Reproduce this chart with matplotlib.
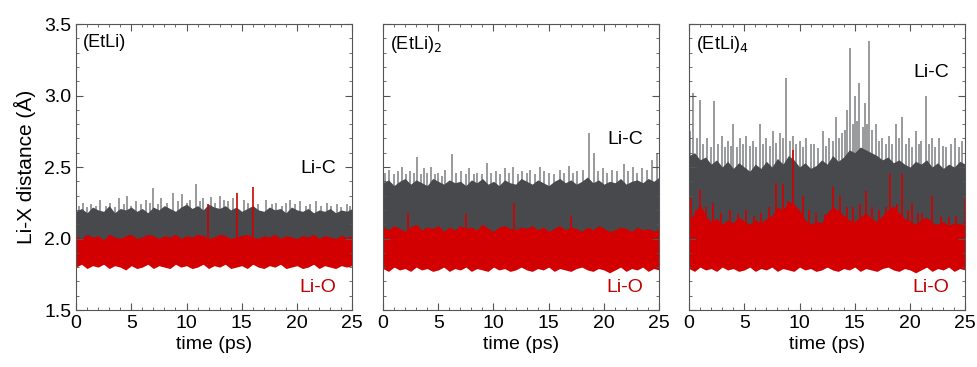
import numpy as np
import matplotlib
matplotlib.use("Agg")
import matplotlib.pyplot as plt
from matplotlib.ticker import MultipleLocator, FormatStrFormatter

plt.rcParams['font.family'] = ['Liberation Sans', 'DejaVu Sans']

# time grid of the band envelopes (ps)
t_env = np.arange(0, 25.01, 0.5)

# ---- (EtLi) ----
c1_hi = [2.19, 2.21, 2.18, 2.22, 2.20, 2.19, 2.23, 2.18, 2.21, 2.20, 2.22, 2.19, 2.21, 2.18, 2.22, 2.20, 2.23,
         2.21, 2.19, 2.22, 2.24, 2.21, 2.23, 2.20, 2.24, 2.22, 2.21, 2.23, 2.20, 2.22, 2.19, 2.21, 2.23, 2.20,
         2.19, 2.22, 2.20, 2.21, 2.18, 2.22, 2.20, 2.19, 2.21, 2.18, 2.20, 2.19, 2.21, 2.18, 2.20, 2.19, 2.21]
c1_lo = [1.97, 1.96, 1.98, 1.96, 1.97, 1.95, 1.97, 1.96, 1.98, 1.96, 1.97, 1.96, 1.95, 1.97, 1.96, 1.98, 1.97,
         1.96, 1.97, 1.95, 1.96, 1.97, 1.98, 1.96, 1.97, 1.96, 1.95, 1.97, 1.96, 1.98, 1.97, 1.96, 1.97, 1.95,
         1.96, 1.97, 1.98, 1.96, 1.97, 1.96, 1.95, 1.97, 1.96, 1.98, 1.97, 1.96, 1.97, 1.95, 1.96, 1.97, 1.96]
o1_hi = [2.02, 2.00, 2.03, 2.01, 2.02, 1.99, 2.03, 2.01, 2.00, 2.02, 2.03, 2.00, 2.01, 2.03, 2.02, 2.00, 2.02,
         2.01, 2.03, 2.00, 2.02, 2.01, 2.03, 2.02, 2.00, 2.01, 2.03, 2.02, 2.00, 2.01, 2.02, 2.03, 2.01, 2.00,
         2.02, 2.01, 2.03, 2.00, 2.02, 2.01, 2.00, 2.02, 2.01, 2.03, 2.00, 2.02, 2.01, 2.00, 2.02, 2.01, 2.02]
o1_lo = [1.80, 1.82, 1.79, 1.81, 1.80, 1.82, 1.79, 1.81, 1.80, 1.78, 1.81, 1.79, 1.80, 1.82, 1.79, 1.81, 1.80,
         1.79, 1.82, 1.80, 1.81, 1.79, 1.80, 1.82, 1.79, 1.81, 1.80, 1.82, 1.79, 1.80, 1.81, 1.79, 1.82, 1.80,
         1.79, 1.81, 1.80, 1.82, 1.79, 1.80, 1.81, 1.79, 1.80, 1.82, 1.79, 1.81, 1.80, 1.79, 1.81, 1.80, 1.81]
c1_spike_t = [0.3, 0.6, 1.0, 1.4, 1.8, 2.2, 2.7, 3.1, 3.5, 3.9, 4.3, 4.6, 5.0, 5.4, 5.9, 6.3, 6.7, 7.0, 7.4,
              7.7, 8.2, 8.8, 9.2, 9.6, 10.0, 10.3, 10.9, 11.2, 11.5, 12.2, 12.6, 13.0, 13.4, 13.8, 14.2, 15.2,
              15.6, 16.5, 17.2, 17.7, 18.1, 18.6, 19.0, 19.4, 19.8, 20.3, 20.8, 21.2, 21.7, 22.2, 22.7, 23.1,
              23.6, 24.0, 24.5, 24.8]
c1_spike_v = [2.23, 2.25, 2.22, 2.24, 2.23, 2.27, 2.23, 2.25, 2.22, 2.28, 2.24, 2.30, 2.23, 2.26, 2.24, 2.27,
              2.25, 2.35, 2.24, 2.28, 2.25, 2.32, 2.26, 2.31, 2.25, 2.27, 2.38, 2.26, 2.28, 2.29, 2.25, 2.30,
              2.27, 2.26, 2.28, 2.27, 2.25, 2.24, 2.27, 2.24, 2.25, 2.23, 2.25, 2.27, 2.24, 2.26, 2.23, 2.24,
              2.26, 2.23, 2.25, 2.23, 2.24, 2.22, 2.24, 2.23]
o1_spike_t = [11.9, 14.6, 16.0]
o1_spike_v = [2.24, 2.32, 2.36]

# ---- (EtLi)2 ----
c2_hi = [2.39, 2.41, 2.37, 2.40, 2.42, 2.38, 2.41, 2.39, 2.37, 2.42, 2.40, 2.38, 2.41, 2.39, 2.40, 2.37, 2.41,
         2.39, 2.42, 2.38, 2.40, 2.37, 2.41, 2.39, 2.38, 2.42, 2.40, 2.38, 2.41, 2.39, 2.37, 2.40, 2.42, 2.39,
         2.41, 2.38, 2.40, 2.43, 2.39, 2.41, 2.38, 2.40, 2.39, 2.42, 2.38, 2.40, 2.41, 2.39, 2.42, 2.40, 2.43]
c2_lo = [2.00, 1.99, 2.01, 2.00, 1.98, 2.00, 2.01, 1.99, 2.00, 2.01, 1.99, 2.00, 1.98, 2.00, 2.01, 1.99, 2.00,
         2.01, 1.99, 2.00, 1.98, 2.00, 2.01, 1.99, 2.00, 2.01, 1.99, 2.00, 1.98, 2.00, 2.01, 1.99, 2.00, 2.01,
         1.99, 2.00, 1.98, 2.00, 2.01, 1.99, 2.00, 2.01, 1.99, 2.00, 1.98, 2.00, 2.01, 1.99, 2.00, 2.01, 2.00]
o2_hi = [2.08, 2.06, 2.09, 2.07, 2.05, 2.08, 2.10, 2.06, 2.08, 2.07, 2.09, 2.05, 2.08, 2.06, 2.09, 2.07, 2.08,
         2.06, 2.10, 2.07, 2.05, 2.08, 2.09, 2.07, 2.06, 2.08, 2.07, 2.09, 2.06, 2.08, 2.05, 2.07, 2.09, 2.06,
         2.08, 2.07, 2.05, 2.08, 2.06, 2.09, 2.07, 2.05, 2.06, 2.08, 2.07, 2.05, 2.08, 2.06, 2.07, 2.05, 2.07]
o2_lo = [1.79, 1.77, 1.80, 1.78, 1.79, 1.77, 1.80, 1.78, 1.79, 1.77, 1.78, 1.80, 1.77, 1.79, 1.78, 1.80, 1.77,
         1.79, 1.78, 1.77, 1.80, 1.78, 1.79, 1.77, 1.78, 1.80, 1.78, 1.77, 1.79, 1.78, 1.80, 1.77, 1.79, 1.78,
         1.77, 1.79, 1.80, 1.78, 1.77, 1.79, 1.78, 1.76, 1.78, 1.80, 1.77, 1.79, 1.78, 1.80, 1.77, 1.79, 1.78]
c2_spike_t = [0.2, 0.5, 1.0, 1.4, 1.7, 2.1, 2.4, 2.8, 3.1, 3.4, 3.7, 4.0, 4.3, 4.7, 5.0, 5.3, 5.6, 6.2, 6.6,
              7.1, 7.5, 7.8, 8.2, 8.5, 9.0, 9.4, 9.8, 10.2, 10.6, 11.0, 11.4, 11.8, 12.2, 12.6, 13.0, 13.3,
              13.8, 14.2, 14.6, 15.0, 15.5, 16.0, 16.4, 16.8, 17.2, 17.6, 18.1, 18.6, 19.1, 19.5, 19.9, 20.3,
              20.7, 21.2, 21.8, 22.2, 22.6, 23.0, 23.4, 23.9, 24.3, 24.8]
c2_spike_v = [2.46, 2.48, 2.45, 2.47, 2.50, 2.45, 2.47, 2.46, 2.57, 2.45, 2.49, 2.46, 2.50, 2.45, 2.46, 2.44,
              2.48, 2.59, 2.46, 2.47, 2.45, 2.49, 2.45, 2.46, 2.45, 2.53, 2.46, 2.47, 2.45, 2.49, 2.46, 2.50,
              2.45, 2.47, 2.46, 2.48, 2.45, 2.50, 2.47, 2.46, 2.45, 2.48, 2.46, 2.51, 2.46, 2.47, 2.48, 2.74,
              2.60, 2.47, 2.49, 2.46, 2.48, 2.47, 2.52, 2.47, 2.50, 2.46, 2.49, 2.48, 2.55, 2.60]
o2_spike_t = [2.3, 7.5, 11.9, 17.0]
o2_spike_v = [2.18, 2.17, 2.25, 2.16]

# ---- (EtLi)4 ----
c3_hi = [2.58, 2.60, 2.55, 2.57, 2.52, 2.55, 2.50, 2.54, 2.49, 2.53, 2.50, 2.47, 2.52, 2.49, 2.54, 2.50, 2.56,
         2.52, 2.58, 2.55, 2.50, 2.53, 2.49, 2.51, 2.55, 2.52, 2.58, 2.54, 2.57, 2.62, 2.60, 2.64, 2.62, 2.60,
         2.58, 2.55, 2.57, 2.53, 2.55, 2.52, 2.50, 2.54, 2.52, 2.55, 2.50, 2.53, 2.49, 2.52, 2.50, 2.54, 2.52]
c3_lo = [2.00, 1.99, 2.01, 2.00, 1.98, 2.00, 2.01, 1.99, 2.00, 2.01, 1.99, 2.00, 1.98, 2.00, 2.01, 1.99, 2.00,
         2.01, 1.99, 2.00, 1.98, 2.00, 2.01, 1.99, 2.00, 2.01, 1.99, 2.00, 1.98, 2.00, 2.01, 1.99, 2.00, 2.01,
         1.99, 2.00, 1.98, 2.00, 2.01, 1.99, 2.00, 2.01, 1.99, 2.00, 1.98, 2.00, 2.01, 1.99, 2.00, 2.01, 2.00]
o3_hi = [2.12, 2.18, 2.24, 2.16, 2.12, 2.14, 2.10, 2.13, 2.11, 2.15, 2.12, 2.10, 2.13, 2.11, 2.14, 2.16, 2.22,
         2.20, 2.26, 2.24, 2.20, 2.13, 2.10, 2.12, 2.11, 2.18, 2.22, 2.20, 2.16, 2.13, 2.12, 2.15, 2.18, 2.14,
         2.12, 2.16, 2.20, 2.23, 2.18, 2.14, 2.12, 2.10, 2.13, 2.15, 2.11, 2.10, 2.12, 2.09, 2.11, 2.10, 2.12]
o3_lo = [1.79, 1.77, 1.80, 1.78, 1.79, 1.77, 1.80, 1.78, 1.79, 1.77, 1.78, 1.80, 1.77, 1.79, 1.78, 1.80, 1.77,
         1.79, 1.78, 1.77, 1.80, 1.78, 1.79, 1.77, 1.78, 1.80, 1.78, 1.77, 1.79, 1.78, 1.80, 1.77, 1.79, 1.78,
         1.77, 1.79, 1.80, 1.78, 1.77, 1.79, 1.78, 1.76, 1.78, 1.80, 1.77, 1.79, 1.78, 1.80, 1.77, 1.79, 1.78]
c3_spike_t = [0.1, 0.4, 0.7, 1.0, 1.3, 1.6, 2.0, 2.3, 2.6, 3.0, 3.3, 3.5, 3.8, 4.0, 4.3, 4.6, 4.9, 5.2, 5.5,
              5.8, 6.1, 6.4, 6.7, 7.0, 7.3, 7.6, 7.9, 8.2, 8.5, 8.8, 9.1, 9.4, 9.7, 10.0, 10.3, 10.6, 11.0,
              11.3, 11.7, 12.1, 12.4, 12.7, 13.0, 13.3, 13.6, 13.8, 14.1, 14.3, 14.6, 14.8, 15.0, 15.2, 15.4,
              15.7, 15.9, 16.1, 16.3, 16.6, 16.9, 17.2, 17.5, 17.8, 18.1, 18.4, 18.7, 19.0, 19.3, 19.6, 19.9,
              20.2, 20.5, 20.8, 21.0, 21.4, 21.7, 22.0, 22.3, 22.6, 23.0, 23.3, 23.7, 24.1, 24.4, 24.7]
c3_spike_v = [2.75, 3.02, 2.70, 2.97, 2.66, 2.70, 2.64, 2.96, 2.66, 2.72, 2.64, 2.68, 2.65, 2.80, 2.64, 2.70,
              2.66, 2.72, 2.65, 2.68, 2.64, 2.80, 2.66, 2.70, 2.65, 2.75, 2.67, 2.74, 2.70, 3.12, 2.68, 2.72,
              2.66, 2.68, 2.64, 2.70, 2.66, 2.66, 2.63, 2.75, 2.65, 2.70, 2.68, 2.85, 2.70, 2.74, 2.76, 2.90,
              3.33, 2.80, 3.00, 2.82, 3.09, 2.78, 2.95, 2.80, 3.38, 2.76, 2.80, 2.68, 2.70, 2.66, 2.72, 2.66,
              2.80, 2.70, 2.85, 2.66, 2.70, 2.64, 2.75, 2.66, 2.68, 3.00, 2.66, 2.70, 2.64, 2.70, 2.65, 2.64,
              2.66, 2.70, 2.64, 2.68]
o3_spike_t = [0.2, 0.6, 1.0, 1.5, 2.2, 2.9, 3.7, 4.4, 5.2, 5.9, 6.5, 7.2, 7.9, 8.5, 9.0, 9.4, 10.3, 10.9, 11.5,
              12.3, 13.0, 13.7, 14.3, 14.8, 15.5, 16.0, 16.6, 17.2, 17.8, 18.2, 18.8, 19.3, 19.8, 20.2, 20.7,
              21.1, 22.0, 22.8, 23.5, 24.2, 25.0]
o3_spike_v = [2.28, 2.20, 2.34, 2.22, 2.25, 2.18, 2.20, 2.17, 2.20, 2.16, 2.18, 2.22, 2.39, 2.38, 2.26, 2.62,
              2.30, 2.20, 2.18, 2.17, 2.36, 2.30, 2.22, 2.22, 2.24, 2.33, 2.22, 2.20, 2.22, 2.45, 2.24, 2.45,
              2.20, 2.25, 2.18, 2.18, 2.30, 2.16, 2.15, 2.16, 2.28]

panels = [
    ("(EtLi)", c1_hi, c1_lo, o1_hi, o1_lo, c1_spike_t, c1_spike_v, o1_spike_t, o1_spike_v, 2.49),
    ("(EtLi)$_2$", c2_hi, c2_lo, o2_hi, o2_lo, c2_spike_t, c2_spike_v, o2_spike_t, o2_spike_v, 2.69),
    ("(EtLi)$_4$", c3_hi, c3_lo, o3_hi, o3_lo, c3_spike_t, c3_spike_v, o3_spike_t, o3_spike_v, 3.16),
]

gray = "#47494c"
red = "#d20000"

fig = plt.figure(figsize=(9.78, 3.67), dpi=100)
lefts = [0.0777, 0.3916, 0.7045]

for i, (name, chi, clo, ohi, olo, cst, csv, ost, osv, ypos) in enumerate(panels):
    ax = fig.add_axes([lefts[i], 0.1553, 0.2825, 0.7793])
    ax.fill_between(t_env, clo, chi, color=gray, lw=0)
    ax.vlines(cst, np.interp(cst, t_env, chi) - 0.06, csv, color=gray, lw=1.1, alpha=0.7)
    ax.fill_between(t_env, olo, ohi, color=red, lw=0)
    ax.vlines(ost, np.interp(ost, t_env, ohi) - 0.06, osv, color=red, lw=1.2)

    ax.set_xlim(0, 25)
    ax.set_ylim(1.5, 3.5)
    ax.xaxis.set_major_locator(MultipleLocator(5))
    ax.xaxis.set_minor_locator(MultipleLocator(1))
    ax.yaxis.set_major_locator(MultipleLocator(0.5))
    ax.yaxis.set_minor_locator(MultipleLocator(0.1))
    ax.yaxis.set_major_formatter(FormatStrFormatter("%.1f"))
    ax.tick_params(which="both", direction="in", top=True, right=True, labelsize=14, color="#555555")
    ax.tick_params(which="major", length=5)
    ax.tick_params(which="minor", length=2.5)
    for sp in ax.spines.values():
        sp.set_color("#555555")
    if i > 0:
        ax.tick_params(labelleft=False)
    else:
        ax.set_ylabel("Li-X distance (Å)", fontsize=15, labelpad=6)
    ax.set_xlabel("time (ps)", fontsize=14, labelpad=3)

    ax.text(0.025, 0.965, name, transform=ax.transAxes, ha="left", va="top", fontsize=13)
    ax.text(21.9, ypos, "Li-C", ha="center", va="center", fontsize=14)
    ax.text(21.9, 1.655, "Li-O", ha="center", va="center", fontsize=14, color="#c00000")

fig.savefig("out.png", dpi=100)
